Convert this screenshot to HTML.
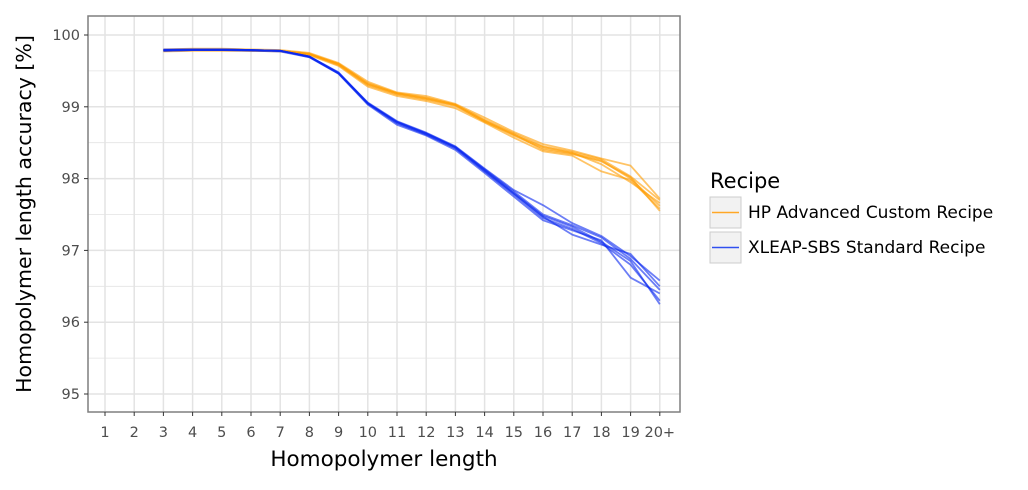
<!DOCTYPE html>
<html><head><meta charset="utf-8"><style>
body{margin:0;background:#fff;font-family:"Liberation Sans","DejaVu Sans",sans-serif}
</style></head><body>
<svg id="c" width="1028" height="485" xmlns="http://www.w3.org/2000/svg" font-family="DejaVu Sans, Liberation Sans, sans-serif">
<rect width="1028" height="485" fill="#fff"/>
<g id="grid"></g>
<g id="lines"></g>
<rect x="88" y="16" width="592" height="396" fill="none" stroke="#7f7f7f" stroke-width="1.5"/>
<g id="axes" font-size="14.5" fill="#4d4d4d"></g>
<text x="384" y="466" font-size="21.5" text-anchor="middle" fill="#000">Homopolymer length</text>
<text transform="translate(31,214) rotate(-90)" font-size="20.5" text-anchor="middle" fill="#000">Homopolymer length accuracy [%]</text>
<g>
<text x="710" y="188" font-size="21" fill="#000">Recipe</text>
<g>
<rect x="710" y="197" width="31" height="31" fill="#f2f2f2" stroke="#ccc"/>
<line x1="712" y1="212.5" x2="739" y2="212.5" stroke="#ffa726" stroke-width="1.5"/>
<text x="748" y="218" font-size="17" fill="#000">HP Advanced Custom Recipe</text></g>
<g>
<rect x="710" y="232" width="31" height="31" fill="#f2f2f2" stroke="#ccc"/>
<line x1="712" y1="247.5" x2="739" y2="247.5" stroke="#3050f0" stroke-width="1.5"/>
<text x="748" y="253" font-size="17" fill="#000">XLEAP-SBS Standard Recipe</text></g>
</g>
</svg>
<script>
const categories=["1","2","3","4","5","6","7","8","9","10","11","12","13","14","15","16","17","18","19","20+"];
const yTicks=[95,96,97,98,99,100];
const hpSeries=[
[null,null,99.79,99.80,99.80,99.79,99.78,99.74,99.60,99.33,99.19,99.13,99.03,98.82,98.63,98.45,98.37,98.27,98.03,97.70],
[null,null,99.78,99.79,99.79,99.79,99.78,99.73,99.58,99.30,99.17,99.10,99.01,98.80,98.60,98.42,98.35,98.25,98.00,97.62],
[null,null,99.80,99.81,99.81,99.80,99.79,99.75,99.61,99.35,99.20,99.15,99.04,98.85,98.65,98.48,98.39,98.28,98.18,97.72],
[null,null,99.77,99.78,99.78,99.78,99.77,99.72,99.57,99.28,99.15,99.08,98.98,98.78,98.57,98.38,98.32,98.10,97.98,97.58],
[null,null,99.79,99.80,99.80,99.79,99.78,99.74,99.59,99.31,99.18,99.11,99.02,98.79,98.61,98.44,98.36,98.20,97.95,97.66],
[null,null,99.78,99.79,99.79,99.78,99.78,99.73,99.60,99.32,99.19,99.12,99.03,98.81,98.62,98.40,98.34,98.24,98.02,97.55]];
const xleapSeries=[
[null,null,99.79,99.80,99.80,99.79,99.78,99.70,99.47,99.05,98.79,98.63,98.44,98.13,97.82,97.50,97.35,97.18,96.88,96.45],
[null,null,99.78,99.79,99.79,99.79,99.78,99.69,99.46,99.04,98.77,98.61,98.42,98.10,97.78,97.45,97.30,97.10,96.80,96.30],
[null,null,99.80,99.80,99.80,99.79,99.78,99.70,99.47,99.06,98.80,98.64,98.45,98.14,97.84,97.63,97.38,97.20,96.92,96.58],
[null,null,99.79,99.79,99.79,99.78,99.77,99.69,99.46,99.03,98.75,98.60,98.40,98.08,97.75,97.42,97.28,97.14,96.62,96.40],
[null,null,99.78,99.79,99.79,99.79,99.78,99.70,99.47,99.05,98.78,98.62,98.43,98.12,97.80,97.48,97.33,97.12,96.85,96.25],
[null,null,99.79,99.80,99.80,99.79,99.78,99.70,99.48,99.05,98.79,98.63,98.44,98.11,97.79,97.47,97.22,97.08,96.95,96.50]];
const NS="http://www.w3.org/2000/svg";
const x=i=>105+i*29.2;
const y=v=>35+(100-v)*71.8;
function mk(t,a,p){const e=document.createElementNS(NS,t);for(const k in a)e.setAttribute(k,a[k]);p.appendChild(e);return e;}
const grid=document.getElementById('grid'),axes=document.getElementById('axes'),lines=document.getElementById('lines');
mk('rect',{x:88,y:16,width:592,height:396,fill:'#fff'},grid);
for(let v=94.5;v<=100.5;v+=0.5){const yy=y(v);if(yy<16||yy>412)continue;
 const l=mk('line',{x1:88,x2:680,y1:yy,y2:yy,stroke:'#e3e3e3','stroke-width':Number.isInteger(v)?1.5:0.8},grid);
 
 }
categories.forEach((c,i)=>{
 const l=mk('line',{x1:x(i),x2:x(i),y1:16,y2:412,stroke:'#e3e3e3','stroke-width':1.5},grid);
 
 
 mk('line',{x1:x(i),x2:x(i),y1:412,y2:416,stroke:'#333'},axes);
 const t=mk('text',{x:x(i),y:437,'text-anchor':'middle'},axes);t.textContent=c;
 
 });
yTicks.forEach(v=>{
 mk('line',{x1:84,x2:88,y1:y(v),y2:y(v),stroke:'#333'},axes);
 const t=mk('text',{x:80,y:y(v)+5,'text-anchor':'end'},axes);t.textContent=v;
 
 });
function draw(series,color,name){series.forEach(s=>{
 const pts=s.map((v,i)=>v==null?null:x(i)+','+y(v)).filter(p=>p).join(' ');
 const p=mk('polyline',{points:pts,fill:'none',stroke:color,'stroke-width':1.8,'stroke-opacity':0.6,'stroke-linejoin':'round'},lines);
 
 });}
draw(hpSeries,'#ff9d00','hp-line');
draw(xleapSeries,'#0a28f0','xleap-line');
</script>
</body></html>
